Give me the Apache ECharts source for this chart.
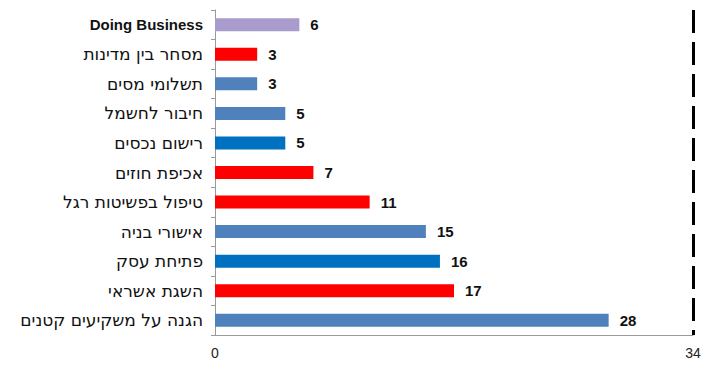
<!DOCTYPE html>
<html>
<head>
<meta charset="utf-8">
<script src="https://cdn.jsdelivr.net/npm/echarts@6/dist/echarts.min.js"></script>
<style>
  html, body { margin: 0; padding: 0; background: #fff; }
  #chart { width: 726px; height: 365px; }
</style>
</head>
<body>
<div id="chart"></div>
<script>
// categories top to bottom
const categories = [
  'Doing Business',
  'מסחר בין מדינות',
  'תשלומי מסים',
  'חיבור לחשמל',
  'רישום נכסים',
  'אכיפת חוזים',
  'טיפול בפשיטות רגל',
  'אישורי בניה',
  'פתיחת עסק',
  'השגת אשראי',
  'הגנה על משקיעים קטנים'
]
const values = [6, 3, 3, 5, 5, 7, 11, 15, 16, 17, 28]
const axisMax = 34

// bar colours, same order as categories
const barColors = [
  '#a99bcb', '#ff0000', '#4f81bd', '#4f81bd', '#0070c0', '#ff0000',
  '#ff0000', '#4f81bd', '#0070c0', '#ff0000', '#4f81bd'
]

// svg renderer so the browser lays out the hebrew text right to left
const chart = echarts.init(document.getElementById('chart'), null, { renderer: 'svg' })
chart.setOption({
  animation: false,
  grid: { left: 215, right: 33, top: 10, bottom: 30 },
  xAxis: {
    type: 'value',
    min: 0,
    max: axisMax,
    interval: axisMax,
    axisLine: { show: true, lineStyle: { color: '#9a9a9a' } },
    axisTick: { show: true, length: 3, inside: true, lineStyle: { color: '#9a9a9a' } },
    splitLine: { show: false },
    axisLabel: { color: '#222', fontSize: 14, margin: 11, fontFamily: 'Liberation Sans' }
  },
  yAxis: {
    type: 'category',
    data: categories,
    inverse: true,
    axisLine: { show: true, lineStyle: { color: '#9a9a9a' } },
    axisTick: { show: true, length: 4, lineStyle: { color: '#9a9a9a' } },
    axisLabel: {
      margin: 12,
      color: '#111',
      fontSize: 17,
      fontFamily: 'DejaVu Sans',
      formatter: function (v) {
        return v === 'Doing Business' ? '{b|' + v + '}' : v
      },
      rich: {
        b: { fontWeight: 'bold', fontSize: 15, color: '#111', fontFamily: 'Liberation Sans' }
      }
    }
  },
  series: [
    {
      type: 'bar',
      barWidth: 13,
      data: values.map((v, i) => ({ value: v, itemStyle: { color: barColors[i] } })),
      label: {
        show: true,
        position: 'right',
        distance: 11,
        color: '#111',
        fontSize: 15,
        fontWeight: 'bold',
        fontFamily: 'Liberation Sans'
      },
      markLine: {
        silent: true,
        symbol: ['none', 'none'],
        label: { show: false },
        lineStyle: { color: '#000', width: 3, type: [23, 9] },
        data: [{ xAxis: axisMax }]
      }
    }
  ]
})
</script>
</body>
</html>
